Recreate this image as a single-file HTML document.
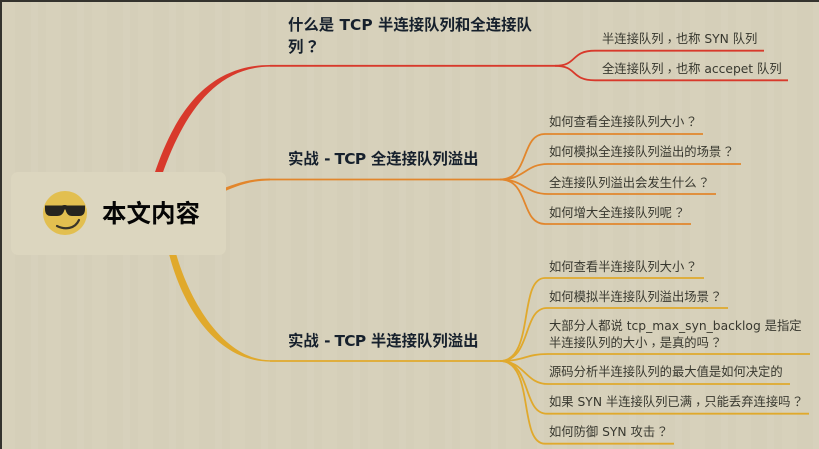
<!DOCTYPE html>
<html><head><meta charset="utf-8"><style>
html,body{margin:0;padding:0}
body{width:819px;height:449px;overflow:hidden;position:relative;background:#d6d0ba;font-family:"DejaVu Sans","Noto Sans CJK SC",sans-serif}
#bg{position:absolute;left:0;top:0;width:819px;height:449px;background:repeating-linear-gradient(90deg,#d7d1bb 0,#d7d1bb 15px,#d5cfb9 15px,#d5cfb9 31px,#d7d1bc 31px,#d7d1bc 38px,#d5cfb9 38px,#d5cfb9 46px)}
#t{position:absolute;left:0;top:0;width:819px;height:2px;background:#34332e}
#l{position:absolute;left:0;top:0;width:2px;height:449px;background:#34332e}
svg{position:absolute;left:0;top:0}
.s{position:absolute;font-size:12.3px;line-height:16px;color:#38382f;white-space:nowrap}
.b{position:absolute;font-size:15.4px;line-height:21px;font-weight:bold;color:#16202c;white-space:nowrap}
.b i{font-style:normal;letter-spacing:-.7px}
.q{font-family:"Noto Sans CJK TC",sans-serif;padding-left:1px;margin-right:-1px}
.c{font-family:"Noto Sans CJK TC",sans-serif;position:relative;top:3px}
#root{position:absolute;left:11px;top:172px;width:215px;height:83px;background:#dcd6bf;border-radius:7px}
#rt{position:absolute;left:102px;top:198px;font-size:24.5px;line-height:32px;font-weight:bold;color:#050505;white-space:nowrap}
</style></head><body>
<div id="bg"></div>
<svg width="819" height="449" viewBox="0 0 819 449" fill="none">
<path d="M154,175C174,115 206,65 270,65L270,66.6C213,67 182,118 162,175Z" fill="#d8392b"/>
<path d="M215,192C235,183 250,178.5 270,178.5L270,180.5C250,180.5 235,186 215,196Z" fill="#e2862c"/>
<path d="M168,250C183,312 220,361.6 270,361.6L270,360.2C226,360.2 190,305 175,250Z" fill="#e0a92c"/>
<g stroke-width="1.8" fill="none">
<g stroke="#d8392b"><path d="M270,65.8H555"/>
<path d="M555,65.8C578,65.8 570,50.7 595,50.7H764"/>
<path d="M555,65.8C578,65.8 570,80.3 595,80.3H788"/></g>
<g stroke="#e2862c"><path d="M270,179.5H500"/>
<path d="M500,179.5C530,179.5 520,134 545,134H703"/>
<path d="M500,179.5C525,179.5 525,164 548,164H741"/>
<path d="M500,179.5C525,179.5 525,194 548,194H716"/>
<path d="M500,179.5C530,179.5 520,224 545,224H691"/></g>
<g stroke="#e0a92c"><path d="M270,361H500"/>
<path d="M500,361C535,361 518,278 545,278H704"/>
<path d="M500,361C532,361 522,308 547,308H728"/>
<path d="M500,361C525,361 525,354 548,354H810"/>
<path d="M500,361C525,361 525,384 548,384H790"/>
<path d="M500,361C532,361 522,413.7 547,413.7H809"/>
<path d="M500,361C535,361 518,443.7 545,443.7H674"/></g>
</g>
</svg>
<div id="root"></div>
<svg width="819" height="449" viewBox="0 0 819 449" fill="none">
<circle cx="65" cy="213" r="22" fill="#e2bf50"/>
<path d="M45,205.5H62Q65,204.5 67,205.5H85V209Q85,216 79,216H72Q67,216 65.5,209.5H64.5Q63,216 57,216H51Q45,216 45,209Z" fill="#25241f"/>
<path d="M57,226C65,230 75,229 79,220" stroke="#3a362a" stroke-width="2.2" stroke-linecap="round"/>
</svg>
<div id="rt">本文内容</div>
<div class="b" style="left:288px;top:15px">什么是 TCP 半连接队列和全连接队</div>
<div class="b" style="left:288px;top:36px">列<span class="q">？</span></div>
<div class="b" style="left:288px;top:149px">实战 <i>- TCP</i> 全连接队列溢出</div>
<div class="b" style="left:288px;top:331px">实战 <i>- TCP</i> 半连接队列溢出</div>
<div class="s" style="left:602px;top:30px">半连接队列<span class="c">，</span>也称 SYN 队列</div>
<div class="s" style="left:602px;top:60px">全连接队列<span class="c">，</span>也称 accepet 队列</div>
<div class="s" style="left:549px;top:113px">如何查看全连接队列大小<span class="q">？</span></div>
<div class="s" style="left:549px;top:143px">如何模拟全连接队列溢出的场景<span class="q">？</span></div>
<div class="s" style="left:549px;top:174px">全连接队列溢出会发生什么<span class="q">？</span></div>
<div class="s" style="left:549px;top:204px">如何增大全连接队列呢<span class="q">？</span></div>
<div class="s" style="left:549px;top:258px">如何查看半连接队列大小<span class="q">？</span></div>
<div class="s" style="left:549px;top:288px">如何模拟半连接队列溢出场景<span class="q">？</span></div>
<div class="s" style="left:549px;top:318px">大部分人都说 tcp_max_syn_backlog 是指定</div>
<div class="s" style="left:549px;top:334px">半连接队列的大小<span class="c">，</span>是真的吗<span class="q">？</span></div>
<div class="s" style="left:549px;top:364px">源码分析半连接队列的最大值是如何决定的</div>
<div class="s" style="left:549px;top:393px">如果 SYN 半连接队列已满<span class="c">，</span>只能丢弃连接吗<span class="q">？</span></div>
<div class="s" style="left:549px;top:423px">如何防御 SYN 攻击<span class="q">？</span></div>
<div id="t"></div><div id="l"></div>
</body></html>
